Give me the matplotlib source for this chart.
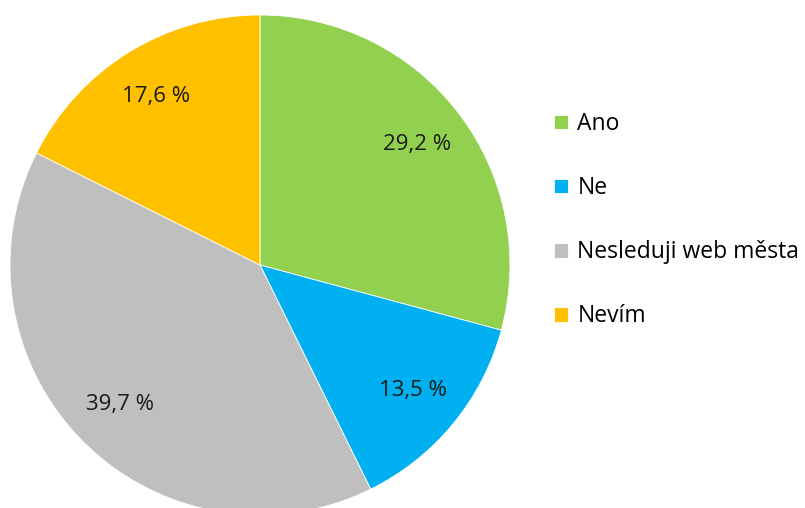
import matplotlib.pyplot as plt

labels = ['Ano', 'Ne', 'Nesleduji web města', 'Nevím']
values = [29.2, 13.5, 39.7, 17.6]
colors = ['#92D050', '#00B0F0', '#BFBFBF', '#FFC000']

plt.rcParams['font.family'] = ['Open Sans', 'DejaVu Sans']

fig = plt.figure(figsize=(8.05, 5.08), dpi=100)
W, H = 805, 508
cx, cy, r = 260, 508 - 265, 250
ax = fig.add_axes([(cx - r) / W, (cy - r) / H, 2 * r / W, 2 * r / H])

wedges, texts, autotexts = ax.pie(
    values, colors=colors, startangle=90, counterclock=False, radius=1,
    autopct=lambda p: ('%.1f %%' % p).replace('.', ','), pctdistance=0.79,
    wedgeprops=dict(linewidth=0.6, edgecolor='white'),
    textprops=dict(fontsize=16, color='#1a1a1a'))
ax.set_xlim(-1, 1)
ax.set_ylim(-1, 1)
ax.set_aspect('equal')
ax.axis('off')

fig.legend(wedges, labels, loc='upper left', bbox_to_anchor=(554 / W, 1 - 112 / H),
           frameon=False, fontsize=16.5, handlelength=0.62, handleheight=0.62,
           handletextpad=0.4, labelspacing=1.75, borderaxespad=0, borderpad=0)

fig.savefig('out.png', dpi=100)
